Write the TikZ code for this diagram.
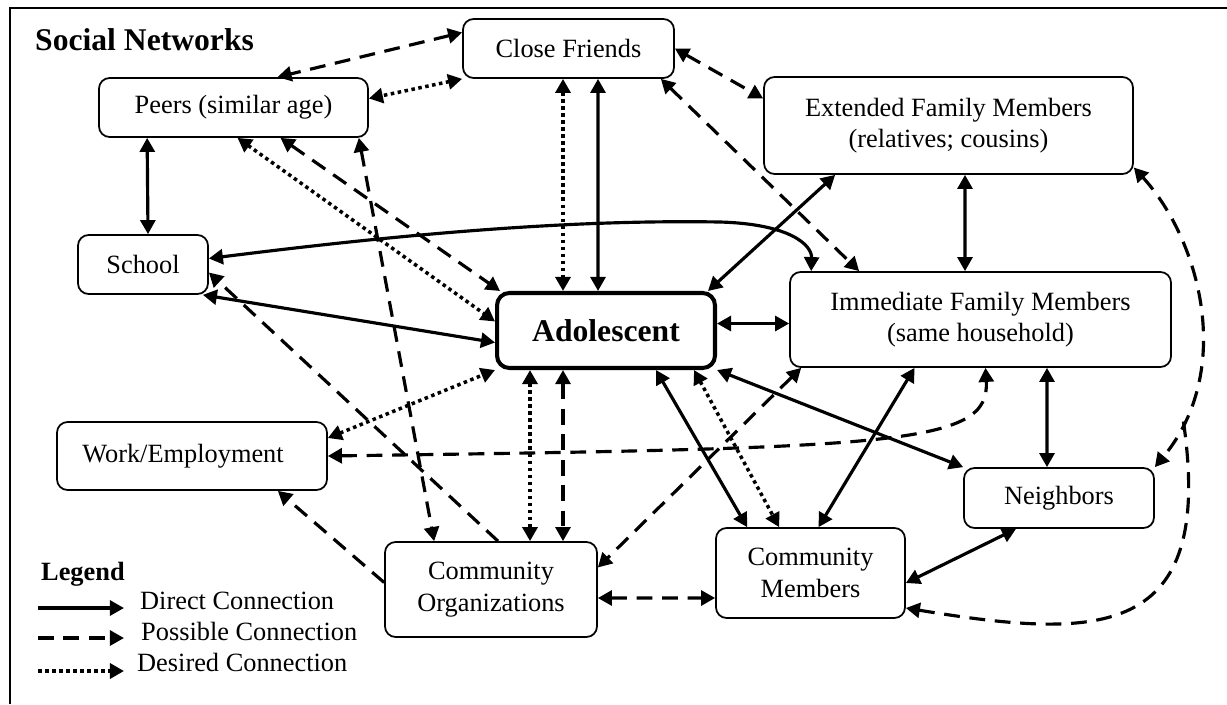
\documentclass[tikz,border=0pt]{standalone}
\usepackage{fontspec}
\setmainfont{Liberation Serif}
\usetikzlibrary{arrows.meta}

\tikzset{
  box/.style={draw, line width=1pt, rounded corners=6pt, align=center, inner sep=0pt},
  solidcon/.style={line width=1.8pt},
  dashcon/.style={line width=1.8pt, dash pattern=on 9pt off 5.5pt},
  dotcon/.style={line width=2pt, dash pattern=on 2pt off 2pt}
}

\begin{document}
\begin{tikzpicture}[x=0.02cm, y=-0.02cm, >={Triangle[length=8pt,width=8.5pt]},
  font=\fontsize{15}{18}\selectfont]
  \useasboundingbox (0,0) rectangle (1227,704);
  \draw[line width=1.1pt] (10,704) -- (10,8) -- (1227,8);
  \node[anchor=base west, font=\fontsize{18}{22}\selectfont\bfseries] (title) at (29,50) {Social Networks};

  \node[box, minimum width=4.22cm, minimum height=1.18cm] (cf) at (568.5,48.5) {Close Friends};
  \node[box, minimum width=5.38cm, minimum height=1.18cm] (peers) at (233.5,107.5) {Peers (similar age)};
  \node[box, minimum width=2.6cm, minimum height=1.18cm] (school) at (143,264.5) {School};
  \node[box, line width=2.3pt, rounded corners=7pt, minimum width=4.36cm, minimum height=1.5cm,
    font=\fontsize{18}{22}\selectfont\bfseries] (adol) at (606,330.5) {Adolescent};
  \node[box, minimum width=7.38cm, minimum height=1.94cm] (ext) at (948.5,125.5) {Extended Family Members\\(relatives; cousins)};
  \node[box, minimum width=7.62cm, minimum height=1.9cm] (imm) at (980.5,319.5) {Immediate Family Members\\(same household)};
  \node[box, minimum width=5.4cm, minimum height=1.36cm] (work) at (192,456) {Work/Employment\hspace*{0.36cm}};
  \node[box, minimum width=4.24cm, minimum height=1.9cm] (corg) at (491,589.5) {Community\\Organizations};
  \node[box, minimum width=3.78cm, minimum height=1.8cm] (cmem) at (810.5,573) {Community\\Members};
  \node[box, minimum width=3.8cm, minimum height=1.2cm] (nbr) at (1059,498) {Neighbors};

  \draw[dashcon,<->] ([shift={(0,-16)}]cf.west) -- ([shift={(44,0)}]peers.north);
  \draw[dotcon,<->] (cf.south west) -- ([shift={(0,-9)}]peers.east);
  \draw[dotcon,<->] ([shift={(-5.5,0)}]cf.south) -- ([shift={(-43,0)}]adol.north);
  \draw[solidcon,<->] ([shift={(29.5,0)}]cf.south) -- ([shift={(-8,0)}]adol.north);
  \draw[dashcon,<->] (cf.east) -- ([shift={(0,-27)}]ext.west);
  \draw[dashcon,<->] ([shift={(-14,0)}]cf.south east) -- ([shift={(70,0)}]imm.north west);
  \draw[solidcon,<->] ([shift={(72,0)}]ext.south west) -- ([shift={(-9,0)}]adol.north east);
  \draw[solidcon,<->] ([shift={(16.5,0)}]ext.south) -- ([shift={(-15.5,0)}]imm.north);
  \draw[solidcon,<->] ([shift={(0,-6)}]school.east) .. controls (450,228) and (600,220) .. (720,222)
    .. controls (790,224) and (812,245) .. ([shift={(22,0)}]imm.north west);
  \draw[solidcon,<->] ([shift={(-6,0)}]school.south east) -- ([shift={(0,12)}]adol.west);
  \draw[dashcon,->] ([shift={(7,0)}]corg.north) -- ([shift={(0,8)}]school.east);
  \draw[dotcon,<->] ([shift={(4,0)}]peers.south) -- ([shift={(0,-9)}]adol.west);
  \draw[dashcon,<->] ([shift={(47,0)}]peers.south) -- ([shift={(5,0)}]adol.north west);
  \draw[dashcon,<->] ([shift={(-10,0)}]peers.south east) -- ([shift={(50,0)}]corg.north west);
  \draw[solidcon,<->] ([shift={(49,0)}]peers.south west) -- ([shift={(5,0)}]school.north);
  \draw[solidcon,<->] ([shift={(0,-7)}]adol.east) -- ([shift={(0,4)}]imm.west);
  \draw[dotcon,<->] ([shift={(0,-18)}]work.east) -- (adol.south west);
  \draw[dashcon,<->] (work.east) .. controls (900,448) and (990,445) .. ([shift={(5,0)}]imm.south);
  \draw[dashcon,->] ([shift={(0,-7)}]corg.west) -- ([shift={(-50,0)}]work.south east);
  \draw[dotcon,<->] ([shift={(-76,0)}]adol.south) -- ([shift={(39,0)}]corg.north);
  \draw[dashcon,<->] ([shift={(-43,0)}]adol.south) -- ([shift={(72,0)}]corg.north);
  \draw[solidcon,<->] ([shift={(50,0)}]adol.south) -- ([shift={(32,0)}]cmem.north west);
  \draw[dotcon,<->] ([shift={(88,0)}]adol.south) -- ([shift={(64,0)}]cmem.north west);
  \draw[solidcon,<->] (adol.south east) -- (nbr.north west);
  \draw[dashcon,<->] ([shift={(12,0)}]imm.south west) -- ([shift={(0,-22)}]corg.east);
  \draw[solidcon,<->] ([shift={(-66,0)}]imm.south) -- ([shift={(8,0)}]cmem.north);
  \draw[solidcon,<->] ([shift={(66.5,0)}]imm.south) -- ([shift={(-12,0)}]nbr.north);
  \draw[solidcon,<->] ([shift={(-43,0)}]nbr.south) -- ([shift={(0,10)}]cmem.east);
  \draw[dashcon,<->] ([shift={(0,8.5)}]corg.east) -- ([shift={(0,25)}]cmem.west);
  \draw[dashcon,<->] ([shift={(0,42)}]ext.east) .. controls (1200,240) and (1235,370) .. (nbr.north east)
    coordinate[pos=0.85] (split);
  \draw[dashcon,->] (split) .. controls (1215,640) and (1100,640) .. ([shift={(0,35)}]cmem.east);

  \node[anchor=base west, font=\fontsize{15}{18}\selectfont\bfseries] (legend) at (35,580) {Legend};
  \coordinate (ldirect) at (38,608);
  \coordinate (lpossible) at (38,638);
  \coordinate (ldesired) at (38,671);
  \draw[solidcon,->] (ldirect) -- ++(86,0);
  \draw[dashcon,->] (lpossible) -- ++(86,0);
  \draw[dotcon,->] (ldesired) -- ++(86,0);
  \node[anchor=base west] (tdirect) at (134,609) {Direct Connection};
  \node[anchor=base west] (tpossible) at (135,640) {Possible Connection};
  \node[anchor=base west] (tdesired) at (131,671) {Desired Connection};
\end{tikzpicture}
\end{document}
